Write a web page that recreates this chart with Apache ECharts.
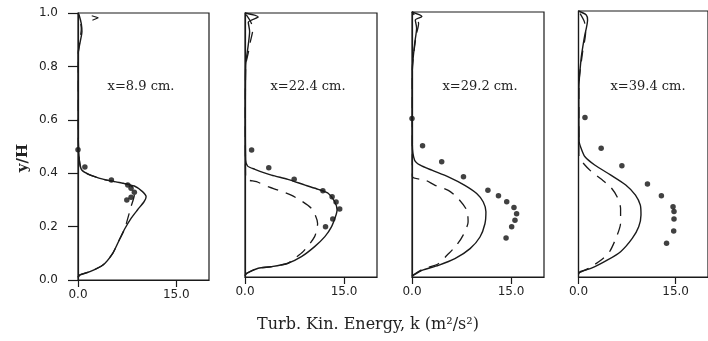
<!DOCTYPE html>
<html>
<head>
<meta charset="utf-8">
<script src="https://cdn.jsdelivr.net/npm/echarts@6/dist/echarts.min.js"></script>
<style>
html,body{margin:0;padding:0;background:#fff;}
#chart{width:708px;height:341px;}
</style>
</head>
<body>
<div id="chart"></div>
<script>
// ---- data: [k (m2/s2), y/H] ----
const panelLabels = ['x=8.9 cm.', 'x=22.4 cm.', 'x=29.2 cm.', 'x=39.4 cm.'];
const xTicks = [0, 15];
const yTicks = [0, 0.2, 0.4, 0.6, 0.8, 1.0];

const p1Solid = [[0,0.01],[0.3,0.019],[1.8,0.031],[3.8,0.056],[5.3,0.1],[6.3,0.15],[7.1,0.19],[8.1,0.231],[9.1,0.263],[10.1,0.294],[10.4,0.312],[9.85,0.331],[8.6,0.352],[6.3,0.365],[3.8,0.378],[1.8,0.394],[0.55,0.413],[0.2,0.45],[0.05,0.525],[0.05,0.85],[0.4,0.9],[0.6,0.93],[0.5,0.96],[0.2,0.99],[0,1.0]];
const p1Dashed = [[0,0.01],[0.3,0.019],[1.8,0.031],[3.8,0.056],[5.3,0.1],[6.3,0.15],[7.1,0.19],[7.6,0.231],[8.1,0.275],[8.6,0.32],[8.4,0.345],[7.8,0.357],[6.3,0.365],[3.8,0.378],[1.8,0.394],[0.55,0.413],[0.2,0.45],[0.05,0.525],[0.05,0.85],[0.3,0.9],[0.5,0.94],[0.3,0.98],[0,1.0]];
const p1Mark = [[2.1,0.99],[3.1,0.982],[2.2,0.973]];
const p1Points = [[0,0.488],[1.05,0.423],[5.1,0.375],[7.6,0.356],[8.1,0.344],[8.6,0.329],[8.1,0.31],[7.45,0.3]];

const p2Solid = [[0,0.005],[0.25,0.014],[2.0,0.033],[4.0,0.039],[6.5,0.052],[8.55,0.077],[10.55,0.115],[12.1,0.153],[13.1,0.19],[13.7,0.228],[13.95,0.254],[13.6,0.285],[12.6,0.317],[11.1,0.332],[9.1,0.348],[6.5,0.37],[4.0,0.386],[1.5,0.408],[0.4,0.42],[0.1,0.443],[0.05,0.6],[0.1,0.8],[0.5,0.88],[0.7,0.93],[0.5,0.965],[2.0,0.985],[0,1.0]];
const p2Dashed = [[0,0.005],[0.25,0.014],[2.0,0.033],[4.0,0.039],[6.5,0.052],[7.55,0.071],[8.8,0.096],[10.55,0.153],[11.0,0.203],[10.05,0.26],[7.0,0.31],[3.5,0.342],[1.75,0.361],[0.1,0.374],[0.05,0.6],[0.1,0.8],[0.5,0.85],[0.8,0.89],[1.2,0.94],[0.8,0.97],[0,1.0]];
const p2Points = [[1.0,0.481],[3.6,0.414],[7.45,0.37],[11.8,0.327],[13.2,0.304],[13.8,0.284],[14.35,0.258],[13.3,0.22],[12.2,0.19]];

const p3Solid = [[0,0.003],[0.25,0.007],[1.5,0.025],[4.0,0.044],[6.5,0.069],[8.8,0.107],[10.3,0.151],[11.05,0.201],[11.2,0.246],[10.8,0.283],[9.8,0.315],[8.0,0.346],[5.5,0.378],[3.0,0.403],[1.25,0.422],[0.4,0.441],[0.05,0.5],[0.05,0.78],[0.4,0.88],[0.7,0.94],[0.5,0.97],[1.5,0.983],[0,1.0]];
const p3Dashed = [[0,0.005],[1.5,0.028],[4.0,0.05],[5.3,0.082],[6.75,0.12],[7.75,0.158],[8.5,0.208],[8.3,0.252],[7.0,0.296],[5.5,0.327],[3.5,0.346],[2.0,0.366],[0.05,0.38],[0.05,0.78],[0.6,0.908],[1.0,0.957],[0.6,0.98],[0,1.0]];
const p3Points = [[0,0.598],[1.6,0.495],[4.5,0.435],[7.8,0.378],[11.5,0.327],[13.1,0.307],[14.35,0.284],[15.45,0.262],[15.85,0.239],[15.6,0.214],[15.1,0.19],[14.25,0.147]];

const p4Solid = [[0,0.01],[0.25,0.02],[2.0,0.033],[4.5,0.064],[6.5,0.095],[8.3,0.145],[9.3,0.189],[9.65,0.233],[9.55,0.27],[8.8,0.308],[7.3,0.346],[5.0,0.383],[2.5,0.421],[1.0,0.452],[0.4,0.484],[0.1,0.509],[0.05,0.7],[0.4,0.82],[0.9,0.9],[1.4,0.966],[1.2,0.985],[0,1.0]];
const p4Dashed = [[0,0.015],[0.5,0.02],[1.6,0.033],[3.5,0.064],[4.8,0.095],[6.0,0.159],[6.5,0.203],[6.5,0.257],[6.0,0.3],[5.0,0.337],[3.5,0.368],[2.0,0.396],[0.5,0.435],[0.05,0.46],[0.05,0.72],[0.6,0.84],[1.1,0.92],[0.9,0.96],[0,1.0]];
const p4Points = [[1.0,0.6],[3.5,0.484],[6.7,0.418],[10.65,0.35],[12.8,0.305],[14.6,0.264],[14.75,0.246],[14.75,0.218],[14.7,0.173],[13.6,0.127]];

const xTitle = 'Turb. Kin. Energy, k (m\u00B2/s\u00B2)';
const yTitle = 'y/H';

// ---- layout ----
const grids = [
  {left: 78, top: 13, width: 131, height: 267},
  {left: 245, top: 13, width: 132, height: 264},
  {left: 412, top: 12, width: 132, height: 265},
  {left: 578.5, top: 11, width: 132, height: 266}
];
const ink = '#1a1a1a';
const solids = [p1Solid, p2Solid, p3Solid, p4Solid];
const dashes = [p1Dashed, p2Dashed, p3Dashed, p4Dashed];
const pts = [p1Points, p2Points, p3Points, p4Points];

const option = {
  animation: false,
  backgroundColor: '#fff',
  grid: grids.map(g => Object.assign({show: true, borderColor: ink, borderWidth: 1.2, backgroundColor: 'transparent'}, g)),
  xAxis: grids.map((g, i) => ({
    type: 'value', gridIndex: i, min: 0, max: 20, interval: 5,
    splitLine: {show: false},
    axisLine: {show: true, onZero: false, lineStyle: {color: ink, width: 1.2}},
    axisTick: {show: true, customValues: xTicks, length: 7, lineStyle: {color: ink, width: 1.2}},
    axisLabel: {show: true, customValues: xTicks, margin: 9, color: '#222',
      fontFamily: 'DejaVu Sans', fontSize: 12, formatter: v => v.toFixed(1)}
  })),
  yAxis: grids.map((g, i) => ({
    type: 'value', gridIndex: i, min: 0, max: 1, interval: 0.2,
    splitLine: {show: false},
    axisLine: {show: true, onZero: false, lineStyle: {color: ink, width: 1.2}},
    axisTick: {show: i === 0, length: 10, lineStyle: {color: ink, width: 1.2}},
    axisLabel: {show: i === 0, margin: 20, color: '#222',
      fontFamily: 'DejaVu Sans', fontSize: 12, formatter: v => v.toFixed(1)}
  })),
  series: [],
  graphic: []
};

for (let i = 0; i < 4; i++) {
  option.series.push({
    type: 'line', xAxisIndex: i, yAxisIndex: i, data: solids[i],
    showSymbol: false, symbol: 'none', smooth: 0.25, clip: false,
    lineStyle: {color: ink, width: 1.4}
  });
  option.series.push({
    type: 'line', xAxisIndex: i, yAxisIndex: i, data: dashes[i],
    showSymbol: false, symbol: 'none', smooth: 0.25, clip: false,
    lineStyle: {color: ink, width: 1.3, type: [11, 8]}
  });
  option.series.push({
    type: 'scatter', xAxisIndex: i, yAxisIndex: i, data: pts[i],
    symbol: 'circle', symbolSize: 5.5, itemStyle: {color: '#111'}
  });
}
option.series.push({
  type: 'line', xAxisIndex: 0, yAxisIndex: 0, data: p1Mark,
  showSymbol: false, symbol: 'none', lineStyle: {color: ink, width: 1.1}
});

const labelCenters = [[141, 87], [308, 87], [480, 87], [648, 87]];
panelLabels.forEach((t, i) => {
  option.graphic.push({
    type: 'text', x: labelCenters[i][0], y: labelCenters[i][1],
    style: {text: t, fill: '#222', font: '13px "DejaVu Serif"', align: 'center', verticalAlign: 'middle'}
  });
});
option.graphic.push({
  type: 'text', x: 368, y: 325,
  style: {text: xTitle, fill: '#222', font: '16px "DejaVu Serif"', align: 'center', verticalAlign: 'middle'}
});
option.graphic.push({
  type: 'text', x: 23, y: 158, rotation: Math.PI / 2,
  style: {text: yTitle, fill: '#222', font: 'bold 15px "DejaVu Serif"', align: 'center', verticalAlign: 'middle'}
});

const chart = echarts.init(document.getElementById('chart'), null, {renderer: 'canvas'});
chart.setOption(option);
</script>
</body>
</html>
